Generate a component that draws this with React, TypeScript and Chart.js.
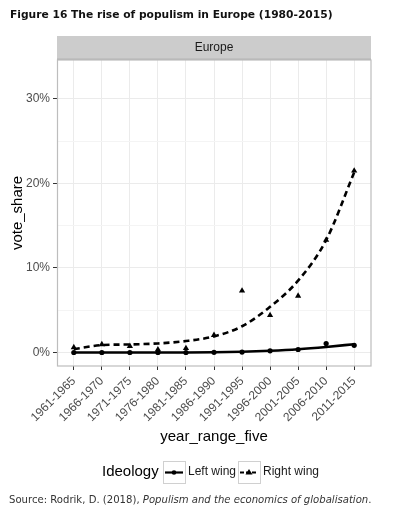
import React, { useEffect, useRef } from "react";
import { Chart, registerables } from "chart.js";

Chart.register(...registerables);

// ---- data ----
const categories = [
  "1961-1965", "1966-1970", "1971-1975", "1976-1980", "1981-1985", "1986-1990",
  "1991-1995", "1996-2000", "2001-2005", "2006-2010", "2011-2015",
];
const leftWingPoints = [0.0, 0.0, 0.0, 0.0, 0.0, 0.02, 0.05, 0.2, 0.35, 1.05, 0.85];
const rightWingPoints = [0.6, 0.95, 0.75, 0.35, 0.5, 2.05, 7.3, 4.4, 6.7, 13.3, 21.5];
const leftWingFit = [0.0, 0.0, 0.0, 0.0, 0.0, 0.02, 0.08, 0.2, 0.38, 0.65, 0.98];
const rightWingFit = [0.4, 0.87, 0.95, 1.07, 1.35, 1.9, 3.1, 5.4, 8.5, 13.3, 21.3];
const yMajorTicks = [0, 10, 20, 30];
const yMinorTicks = [5, 15, 25];
const facetLabel = "Europe";
const legendTitle = "Ideology";
const seriesNames = ["Left wing", "Right wing"];

const FONT = "'Liberation Sans', Arial, sans-serif";

const toXY = (arr: number[]) => arr.map((v, i) => ({ x: i, y: v }));

const panelPlugin = {
  id: "panelPlugin",
  beforeDraw(chart: any) {
    const { ctx, chartArea } = chart;
    const { left, right, top } = chartArea;
    ctx.save();
    ctx.fillStyle = "#cccccc";
    ctx.fillRect(left, top - 24, right - left, 24);
    ctx.fillStyle = "#b3b3b3";
    ctx.fillRect(left, top - 1.5, right - left, 1.5);
    ctx.fillStyle = "#1a1a1a";
    ctx.font = `12px ${FONT}`;
    ctx.textAlign = "center";
    ctx.textBaseline = "middle";
    ctx.fillText(facetLabel, (left + right) / 2, top - 12);
    ctx.restore();
  },
  beforeDatasetsDraw(chart: any) {
    const { ctx, chartArea } = chart;
    const { left, right, top, bottom } = chartArea;
    ctx.save();
    ctx.strokeStyle = "#bdbdbd";
    ctx.lineWidth = 1.2;
    ctx.strokeRect(left + 0.5, top, right - left - 0.5, bottom - top);
    ctx.restore();
  },
  afterDraw(chart: any) {
    const { ctx } = chart;
    const cy = 472;
    ctx.save();
    ctx.fillStyle = "#000";
    ctx.textBaseline = "middle";
    ctx.textAlign = "left";
    ctx.font = `15px ${FONT}`;
    ctx.fillText(legendTitle, 102, cy);
    const keys = [
      { x: 163, label: seriesNames[0], dash: [] as number[], style: "circle", lx: 188 },
      { x: 238, label: seriesNames[1], dash: [4, 2], style: "triangle", lx: 263 },
    ];
    keys.forEach((k) => {
      ctx.strokeStyle = "#d0d0d0";
      ctx.lineWidth = 1;
      ctx.fillStyle = "#ffffff";
      ctx.fillRect(k.x, cy - 11, 22, 22);
      ctx.strokeRect(k.x + 0.5, cy - 11 + 0.5, 22, 22);
      ctx.strokeStyle = "#000";
      ctx.lineWidth = 2.2;
      ctx.setLineDash(k.dash);
      ctx.beginPath();
      ctx.moveTo(k.x + 2, cy + 0.5);
      ctx.lineTo(k.x + 20, cy + 0.5);
      ctx.stroke();
      ctx.setLineDash([]);
      ctx.fillStyle = "#000";
      ctx.beginPath();
      if (k.style === "circle") {
        ctx.arc(k.x + 11, cy + 0.5, 2.3, 0, Math.PI * 2);
      } else {
        ctx.moveTo(k.x + 11, cy - 3);
        ctx.lineTo(k.x + 14.5, cy + 2.5);
        ctx.lineTo(k.x + 7.5, cy + 2.5);
        ctx.closePath();
      }
      ctx.fill();
      ctx.fillStyle = "#1a1a1a";
      ctx.font = `12px ${FONT}`;
      ctx.fillText(k.label, k.lx, cy);
    });
    ctx.restore();
  },
};

export default function App() {
  const canvasRef = useRef<HTMLCanvasElement>(null);

  useEffect(() => {
    const canvas = canvasRef.current;
    if (!canvas) return;
    const chart = new Chart(canvas, {
      type: "line",
      data: {
        datasets: [
          {
            label: seriesNames[0] + " fit",
            data: toXY(leftWingFit),
            borderColor: "#000",
            borderWidth: 2.6,
            pointRadius: 0,
            cubicInterpolationMode: "monotone",
            fill: false,
          },
          {
            label: seriesNames[1] + " fit",
            data: toXY(rightWingFit),
            borderColor: "#000",
            borderWidth: 2.6,
            borderDash: [6, 4],
            pointRadius: 0,
            cubicInterpolationMode: "monotone",
            fill: false,
          },
          {
            label: seriesNames[0],
            data: toXY(leftWingPoints),
            showLine: false,
            pointStyle: "circle",
            pointRadius: 2.6,
            pointBackgroundColor: "#000",
            pointBorderColor: "#000",
            pointBorderWidth: 0,
          },
          {
            label: seriesNames[1],
            data: toXY(rightWingPoints),
            showLine: false,
            pointStyle: "triangle",
            pointRadius: 3.6,
            pointBackgroundColor: "#000",
            pointBorderColor: "#000",
            pointBorderWidth: 0,
          },
        ],
      } as any,
      options: {
        animation: false,
        responsive: false,
        events: [],
        layout: { padding: { left: 0, right: 27, top: 60, bottom: 67 } },
        plugins: { legend: { display: false }, tooltip: { enabled: false }, title: { display: false } },
        scales: {
          x: {
            type: "linear",
            min: -0.6,
            max: 10.6,
            afterBuildTicks(scale: any) {
              scale.ticks = categories.map((_, i) => ({ value: i }));
            },
            afterFit(scale: any) {
              scale.height = 82;
              scale.paddingLeft = 0;
              scale.paddingRight = 0;
            },
            ticks: {
              autoSkip: false,
              minRotation: 45,
              maxRotation: 45,
              padding: 4,
              color: "#4d4d4d",
              font: { family: FONT, size: 12 },
              callback: (v: any) => categories[v as number] ?? "",
            },
            grid: {
              color: "#ebebeb",
              lineWidth: 1,
              drawTicks: true,
              tickLength: 4,
              tickColor: "#333333",
              tickWidth: 1,
            },
            border: { display: false },
            title: {
              display: true,
              text: "year_range_five",
              color: "#000",
              font: { family: FONT, size: 15 },
              padding: { top: 0, bottom: 2 },
            },
          },
          y: {
            type: "linear",
            min: -1.6,
            max: 34.6,
            afterBuildTicks(scale: any) {
              scale.ticks = [...yMajorTicks, ...yMinorTicks]
                .sort((a, b) => a - b)
                .map((v) => ({ value: v }));
            },
            afterFit(scale: any) {
              scale.width = 57;
            },
            ticks: {
              padding: 3,
              color: "#4d4d4d",
              font: { family: FONT, size: 12 },
              callback: (v: any) => (yMajorTicks.includes(v as number) ? `${v}%` : ""),
            },
            grid: {
              color: (c: any) => (yMajorTicks.includes(c.tick?.value) ? "#ebebeb" : "#f4f4f4"),
              lineWidth: 1,
              drawTicks: true,
              tickLength: 4,
              tickColor: (c: any) => (yMajorTicks.includes(c.tick?.value) ? "#333333" : "rgba(0,0,0,0)"),
              tickWidth: 1,
            },
            border: { display: false },
            title: {
              display: true,
              text: "vote_share",
              color: "#000",
              font: { family: FONT, size: 15 },
              padding: { top: 9, bottom: 0 },
            },
          },
        },
      } as any,
      plugins: [panelPlugin],
    });
    return () => chart.destroy();
  }, []);

  return (
    <div style={{ position: "absolute", left: 0, top: 0, width: 398, height: 515, background: "#fff" }}>
      <canvas ref={canvasRef} width={398} height={515} style={{ position: "absolute", left: 0, top: 0 }} />
      <div
        style={{
          position: "absolute",
          left: 10,
          top: 7,
          fontFamily: "'DejaVu Sans', Verdana, sans-serif",
          fontWeight: "bold",
          fontSize: 10.7,
          color: "#111",
          whiteSpace: "nowrap",
          lineHeight: "16px",
        }}
      >
        Figure 16 The rise of populism in Europe (1980-2015)
      </div>
      <div
        style={{
          position: "absolute",
          left: 9,
          top: 493,
          fontFamily: "'DejaVu Sans', Verdana, sans-serif",
          fontSize: 10.1,
          color: "#333",
          whiteSpace: "nowrap",
          lineHeight: "14px",
        }}
      >
        Source: Rodrik, D. (2018), <i>Populism and the economics of globalisation</i>.
      </div>
    </div>
  );
}
